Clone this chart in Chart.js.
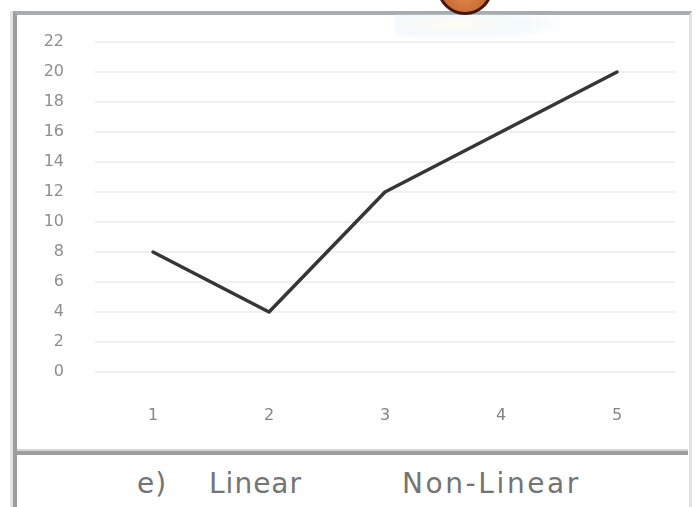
<!DOCTYPE html>
<html>
<head>
<meta charset="utf-8">
<script src="https://cdn.jsdelivr.net/npm/chart.js@4"></script>
<style>
  html, body { margin: 0; padding: 0; background: #fff; }
  body { width: 698px; height: 507px; position: relative; overflow: hidden; }
  #frame {
    position: absolute; left: 13px; top: 11px; width: 672px; height: 520px;
    border-left: 4px solid #9c9c9c; border-top: 4px solid #a9acae;
    border-right: 3px solid #e2e2e2;
    box-shadow: -3px 0 0 #e4e4e4;
  }
  #divider {
    position: absolute; left: 17px; top: 449px; width: 671px; height: 4px;
    background: #9d9d9d; border-top: 2px solid #d4d4d4;
  }
  #halo {
    position: absolute; left: 395px; top: 14px; width: 170px; height: 26px;
    background: radial-gradient(ellipse at 35% 40%, rgba(255,245,215,0.35), rgba(215,235,250,0.3) 45%, rgba(255,255,255,0) 75%);
  }
  #badge {
    position: absolute; left: 437px; top: -41px; width: 50px; height: 50px;
    border-radius: 50%; border: 3px solid #4a1400;
    background: radial-gradient(circle at 50% 65%, #e0894f, #c0602a 70%);
  }
  canvas { position: absolute; left: 0; top: 0; }
  .cap {
    position: absolute; top: 467px; font-family: "DejaVu Sans", sans-serif;
    font-size: 28px; color: #747474; letter-spacing: 1px; white-space: nowrap;
  }
</style>
</head>
<body>
<div id="frame"></div>
<div id="halo"></div>
<div id="badge"></div>
<canvas id="chart" width="698" height="445"></canvas>
<div id="divider"></div>
<div class="cap" style="left:137px">e)</div>
<div class="cap" style="left:209px">Linear</div>
<div class="cap" style="left:402px; letter-spacing:2.6px">Non-Linear</div>
<script>
// x-axis categories and the plotted series
const categories = ['1', '2', '3', '4', '5'];
const values = [8, 4, 12, 16, 20];

// y-axis range and tick spacing
const yMin = 0;
const yMax = 22;
const yStep = 2;

new Chart(document.getElementById('chart'), {
  type: 'line',
  data: {
    labels: categories,
    datasets: [{
      data: values,
      borderColor: '#363636',
      borderWidth: 3.5,
      borderCapStyle: 'round',
      borderJoinStyle: 'round',
      pointRadius: 0,
      tension: 0,
      fill: false
    }]
  },
  options: {
    responsive: false,
    animation: false,
    events: [],
    layout: { padding: { left: 0, top: 42, right: 23, bottom: 0 } },
    plugins: { legend: { display: false }, tooltip: { enabled: false } },
    scales: {
      x: {
        offset: true,
        grid: { display: false, drawTicks: false },
        border: { display: false },
        ticks: {
          padding: 34,
          color: '#858585',
          font: { family: 'DejaVu Sans', size: 16 }
        },
        afterFit(scale) { scale.height = 445 - 372; }
      },
      y: {
        min: yMin,
        max: yMax,
        grid: { color: '#f0f0f0', lineWidth: 2, drawTicks: false },
        border: { display: false },
        ticks: {
          stepSize: yStep,
          padding: 31,
          color: '#8e8e8e',
          font: { family: 'DejaVu Sans', size: 16 }
        },
        afterFit(scale) { scale.width = 95; }
      }
    }
  }
});
</script>
</body>
</html>
